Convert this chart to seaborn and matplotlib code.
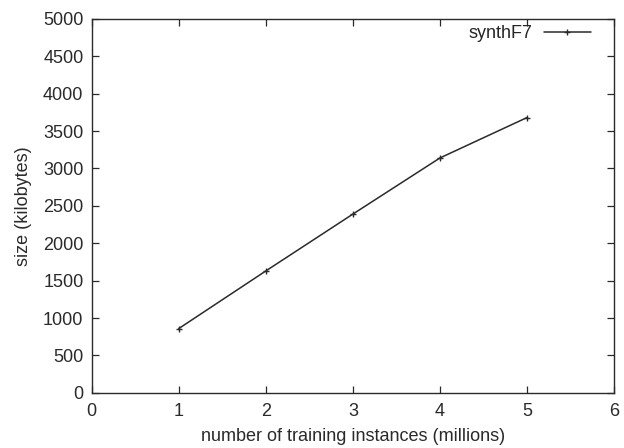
import matplotlib
matplotlib.use("Agg")
import matplotlib.pyplot as plt
import seaborn as sns
import pandas as pd

# Model size versus amount of training data
instances_millions = [1, 2, 3, 4, 5]
size_kb = [860, 1630, 2390, 3140, 3680]
series_name = "synthF7"

x_ticks = [0, 1, 2, 3, 4, 5, 6]
y_ticks = list(range(0, 5001, 500))

sns.set_theme(style="ticks")
plt.rcParams["font.family"] = ["Liberation Sans", "DejaVu Sans"]

df = pd.DataFrame({"instances": instances_millions, "size": size_kb,
                   "series": series_name})

fig = plt.figure(figsize=(6.24, 4.48), dpi=100)
ax = fig.add_axes([0.147, 0.123, 0.837, 0.835])

ink = "#2a2a2a"
sns.lineplot(data=df, x="instances", y="size", hue="series",
             palette=[ink], marker="+", markersize=4.5,
             markeredgewidth=1.0, markeredgecolor=ink,
             linewidth=1.1, ax=ax)

ax.set_xlim(0, 6)
ax.set_ylim(0, 5000)
ax.set_xticks(x_ticks)
ax.set_yticks(y_ticks)
ax.set_xlabel("number of training instances (millions)", fontsize=13,
              color=ink, labelpad=6)
ax.set_ylabel("size (kilobytes)", fontsize=13, color=ink, labelpad=8)
ax.tick_params(direction="in", length=5, width=0.9, top=True, right=True,
               labelsize=13, labelcolor=ink, color=ink, pad=6)
ax.tick_params(axis="x", pad=7)
for s in ax.spines.values():
    s.set_visible(True)
    s.set_color(ink)
    s.set_linewidth(1.0)

leg = ax.legend(loc="upper right", bbox_to_anchor=(0.962, 0.992),
                frameon=False, fontsize=13, markerfirst=False,
                handlelength=2.6, borderaxespad=0, borderpad=0.2,
                handletextpad=0.65)

fig.savefig("out.png", dpi=100)
